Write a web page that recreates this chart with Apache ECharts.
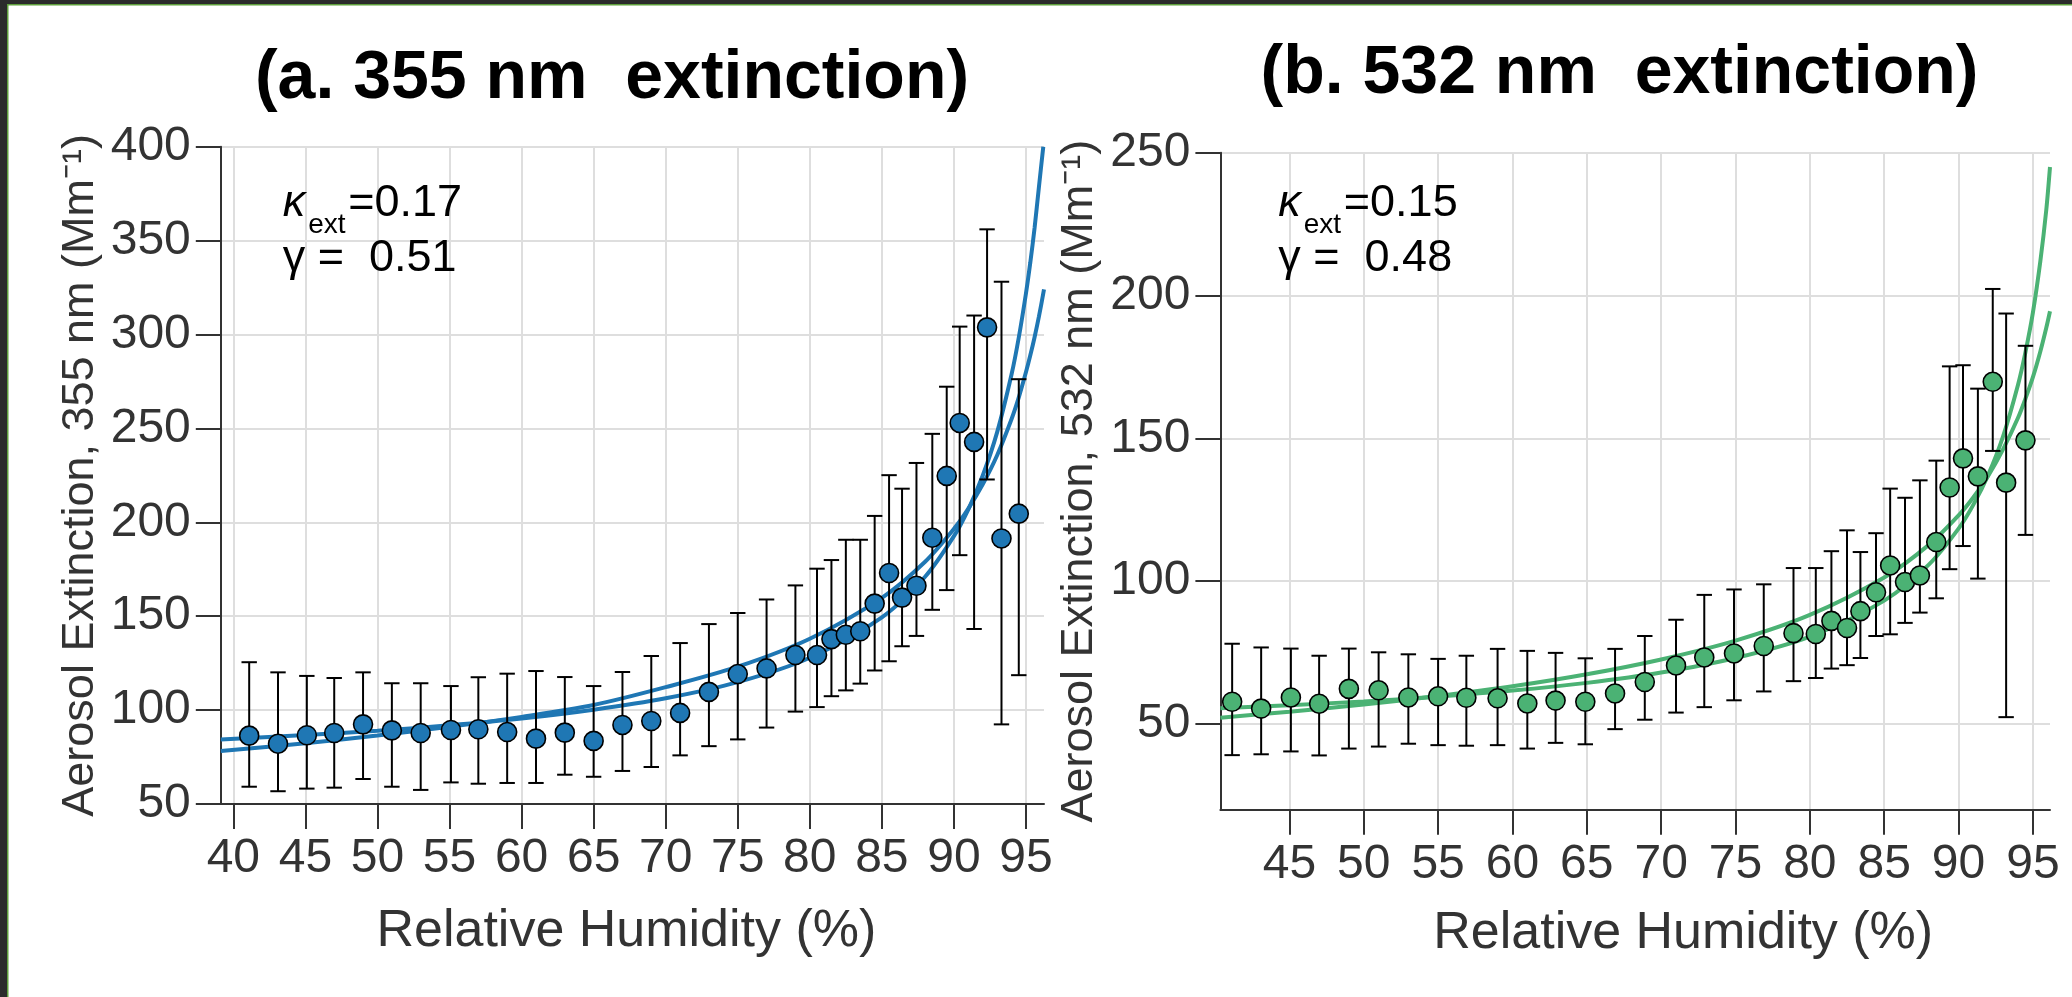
<!DOCTYPE html>
<html>
<head>
<meta charset="utf-8">
<script src="https://cdn.jsdelivr.net/npm/echarts@6/dist/echarts.min.js"></script>
<style>
html,body{margin:0;padding:0;background:#fff;}
#chart{width:2072px;height:997px;}
</style>
</head>
<body>
<div id="chart"></div>
<script>
// ---------- data ----------
const titleA = '(a. 355 nm  extinction)';
const titleB = '(b. 532 nm  extinction)';
const xTicks355 = [40, 45, 50, 55, 60, 65, 70, 75, 80, 85, 90, 95];
const xTicks532 = [45, 50, 55, 60, 65, 70, 75, 80, 85, 90, 95];
const yTicks532 = [50, 100, 150, 200, 250];

const rh355 = [41.1, 43.1, 45.1, 47.0, 49.0, 51.0, 53.0, 55.1, 57.0, 59.0, 61.0, 63.0, 65.0, 67.0, 69.0,
  71.0, 73.0, 75.0, 77.0, 79.0, 80.5, 81.5, 82.5, 83.5, 84.5, 85.5, 86.4, 87.4, 88.5, 89.5, 90.4, 91.4, 92.3, 93.3, 94.5];
const ext355 = [86.4, 82.1, 86.6, 87.8, 92.4, 89.2, 87.8, 89.4, 89.8, 88.3, 84.8, 88.0, 83.6, 92.1, 94.2,
  98.5, 109.7, 119.2, 122.2, 129.3, 129.3, 137.8, 140.1, 142.0, 156.7, 173.0, 159.9, 166.2, 191.8, 224.7, 252.9, 242.8, 303.8, 191.4, 204.6];
const lo355 = [59.2, 56.8, 58.2, 58.7, 63.3, 59.2, 57.5, 61.5, 60.8, 61.2, 61.2, 65.6, 64.5, 67.6, 69.7,
  75.9, 80.8, 84.4, 90.7, 99.2, 101.6, 107.4, 110.5, 114.1, 121.1, 126.0, 134.0, 139.5, 153.4, 163.9, 182.5, 143.2, 222.8, 92.4, 118.6];
const hi355 = [125.5, 120.1, 118.2, 117.1, 120.1, 114.3, 114.3, 112.8, 117.5, 119.4, 120.8, 117.6, 112.8, 120.3, 128.8,
  135.7, 145.8, 151.7, 158.9, 166.4, 175.3, 179.9, 190.7, 190.7, 203.4, 225.1, 217.9, 231.6, 247.1, 272.2, 304.2, 310.1, 356.0, 328.1, 276.2];

const rh532 = [41.15, 43.1, 45.1, 47.0, 49.0, 51.0, 53.0, 55.0, 56.9, 59.0, 61.0, 62.9, 64.9, 66.9, 68.9,
  71.0, 72.9, 74.9, 76.9, 78.9, 80.4, 81.45, 82.5, 83.4, 84.45, 85.4, 86.4, 87.4, 88.5, 89.4, 90.3, 91.3, 92.3, 93.2, 94.5];
const ext532 = [57.8, 55.4, 59.3, 57.1, 62.3, 61.8, 59.3, 59.7, 59.2, 59.0, 57.2, 58.2, 57.8, 60.7, 64.7,
  70.5, 73.3, 74.7, 77.3, 81.8, 81.5, 86.1, 83.6, 89.5, 96.1, 105.5, 99.7, 102.0, 113.7, 132.8, 143.0, 136.7, 169.8, 134.5, 149.3];
const lo532 = [39.1, 39.4, 40.4, 39.0, 41.4, 42.1, 43.1, 42.6, 42.4, 42.6, 41.4, 43.4, 42.9, 48.2, 51.5,
  54.0, 55.9, 58.3, 61.4, 65.0, 66.1, 69.4, 70.6, 73.1, 80.8, 81.4, 85.4, 89.0, 94.0, 104.2, 112.3, 100.9, 145.6, 52.4, 116.2];
const hi532 = [78.1, 76.8, 76.4, 73.9, 76.4, 75.1, 74.4, 72.8, 73.9, 76.3, 75.6, 74.9, 73.0, 76.3, 80.8,
  86.5, 95.2, 97.1, 98.9, 104.6, 104.6, 110.5, 117.8, 110.2, 116.8, 132.4, 129.2, 135.3, 142.2, 175.2, 175.6, 167.4, 202.3, 193.7, 182.4];

// fitted curves
const rhFit355 = [39.13, 45, 50, 55, 60, 65, 70, 75, 80, 85, 88, 90, 91, 92, 93, 94, 94.5, 95, 95.3, 95.6, 95.9, 96.2];
const kFit355  = [84.4, 86.7, 89.0, 91.9, 95.5, 100.2, 106.3, 114.9, 127.9, 149.4, 171, 192.6, 206.9, 224.9, 248, 278.8, 298.4, 322, 338.4, 357, 378.7, 400];
const rhFitG355 = [39.13, 45, 50, 55, 60, 65, 70, 75, 80, 85, 88, 90, 91, 92, 93, 94, 94.5, 95, 95.3, 95.6, 95.9, 96.25];
const gFit355  = [78.2, 82.4, 86.5, 91.1, 96.4, 102.7, 112.2, 123.1, 138, 159.8, 179, 196.5, 207.3, 220.2, 235.7, 255, 266.5, 280, 288.9, 298.7, 309.6, 324];

const rhFit532 = [40.36, 45, 50, 55, 60, 65, 70, 75, 80, 85, 88, 90, 91, 92, 93, 94, 94.5, 95, 95.5, 95.9, 96.15];
const kFit532  = [55.5, 56.6, 57.9, 59.6, 61.7, 64.4, 68.0, 73.1, 80.6, 93.2, 105.8, 118.4, 126.8, 137.3, 150.8, 168.8, 180.2, 194, 212, 230, 245];
const gFit532  = [52.2, 54.3, 56.8, 59.8, 63.2, 67.4, 72.6, 79.2, 88.2, 101.3, 112.7, 123.0, 129.4, 136.9, 146.2, 157.2, 163.9, 171.4, 180.4, 188.7, 194.5];

// ---------- styling ----------
const FONT = '"Liberation Sans", Arial, sans-serif';
const BLUE = '#1f77b4';
const GREEN = '#4bb274';
const AX = '#333333';
const GRID = '#dedede';

const pairs = (xs, ys) => xs.map((x, i) => [x, ys[i]]);
const triples = (xs, lo, hi) => xs.map((x, i) => [x, lo[i], hi[i]]);

function errRender(params, api) {
  const x = api.value(0), lo = api.value(1), hi = api.value(2);
  const a = api.coord([x, lo]), b = api.coord([x, hi]);
  const w = 7.7;
  const st = { stroke: '#000', lineWidth: 2 };
  return { type: 'group', children: [
    { type: 'line', shape: { x1: a[0], y1: a[1], x2: b[0], y2: b[1] }, style: st },
    { type: 'line', shape: { x1: a[0] - w, y1: a[1], x2: a[0] + w, y2: a[1] }, style: st },
    { type: 'line', shape: { x1: b[0] - w, y1: b[1], x2: b[0] + w, y2: b[1] }, style: st }
  ]};
}

function xAxisCfg(gi, min, max, ticks, gap, pad) {
  return {
    type: 'value', gridIndex: gi, min: min, max: max,
    axisLine: { show: true, onZero: false, lineStyle: { color: AX, width: 2 } },
    axisTick: { show: true, length: 25, customValues: ticks, lineStyle: { color: AX, width: 2 } },
    axisLabel: { customValues: ticks, fontSize: 48, color: AX, fontFamily: FONT, margin: 31 },
    splitLine: { show: true, lineStyle: { color: GRID, width: 2 } },
    name: 'Relative Humidity (%)', nameLocation: 'middle', nameGap: gap,
    nameTextStyle: { fontSize: 52, color: AX, fontFamily: FONT, padding: pad }
  };
}
function yAxisCfg(gi, min, max, ticks, label) {
  const cfg = {
    type: 'value', gridIndex: gi, min: min, max: max,
    axisLine: { show: true, onZero: false, lineStyle: { color: AX, width: 2 } },
    axisTick: { show: true, length: 25, lineStyle: { color: AX, width: 2 } },
    axisLabel: { fontSize: 48, color: AX, fontFamily: FONT, margin: 30 },
    splitLine: { show: true, lineStyle: { color: GRID, width: 2 } },
    name: label, nameLocation: 'middle', nameGap: 118,
    nameTextStyle: { fontSize: 45, color: AX, fontFamily: FONT }
  };
  if (ticks) { cfg.axisTick.customValues = ticks; cfg.axisLabel.customValues = ticks; }
  else { cfg.interval = 50; }
  return cfg;
}

function fitLine(xi, xs, ys, color) {
  return { type: 'line', xAxisIndex: xi, yAxisIndex: xi, data: pairs(xs, ys),
    showSymbol: false, symbol: 'none', smooth: 0.3, clip: true,
    lineStyle: { color: color, width: 4 }, z: 2, silent: true };
}

const chart = echarts.init(document.getElementById('chart'), null, { renderer: 'canvas' });

function txt(x, y, s, font, color) {
  return { type: 'text', x: x, y: y, silent: true, z: 100,
    style: { text: s, font: font, fill: color || '#000', align: 'left', verticalAlign: 'middle' } };
}
function annot(x0, kap, gam) {
  return [
    txt(x0, 203.7, 'κ', 'italic 45px ' + FONT),
    txt(x0 + 25.5, 225.3, 'ext', '28px ' + FONT),
    txt(x0 + 65.5, 203.7, '=' + kap, '45px ' + FONT),
    txt(x0, 258.7, 'γ =  ' + gam, '45px ' + FONT)
  ];
}

const option = {
  backgroundColor: '#ffffff',
  animation: false,
  grid: [
    { left: 220.8, top: 146.7, width: 823.2, height: 657.3, containLabel: false, outerBoundsMode: 'none' },
    { left: 1220.4, top: 152.7, width: 829.6, height: 657, containLabel: false, outerBoundsMode: 'none' }
  ],
  xAxis: [
    xAxisCfg(0, 39.13, 96.25, xTicks355, 102, [0, 12, 0, 0]),
    xAxisCfg(1, 40.36, 96.15, xTicks532, 98, [0, 0, 0, 96])
  ],
  yAxis: [
    yAxisCfg(0, 50, 400, null, 'Aerosol Extinction, 355 nm (Mm⁻¹)'),
    yAxisCfg(1, 20, 250, yTicks532, 'Aerosol Extinction, 532 nm (Mm⁻¹)')
  ],
  series: [
    fitLine(0, rhFit355, kFit355, BLUE),
    fitLine(0, rhFitG355, gFit355, BLUE),
    { type: 'custom', xAxisIndex: 0, yAxisIndex: 0, data: triples(rh355, lo355, hi355),
      encode: { x: 0, y: [1, 2] }, renderItem: errRender, z: 3, silent: true },
    { type: 'scatter', xAxisIndex: 0, yAxisIndex: 0, data: pairs(rh355, ext355), symbolSize: 19,
      itemStyle: { color: BLUE, borderColor: '#000', borderWidth: 1.6, opacity: 1 }, z: 5, silent: true },

    fitLine(1, rhFit532, kFit532, GREEN),
    fitLine(1, rhFit532, gFit532, GREEN),
    { type: 'custom', xAxisIndex: 1, yAxisIndex: 1, data: triples(rh532, lo532, hi532),
      encode: { x: 0, y: [1, 2] }, renderItem: errRender, z: 3, silent: true },
    { type: 'scatter', xAxisIndex: 1, yAxisIndex: 1, data: pairs(rh532, ext532), symbolSize: 19,
      itemStyle: { color: GREEN, borderColor: '#000', borderWidth: 1.6, opacity: 1 }, z: 5, silent: true }
  ],
  graphic: [
    { type: 'rect', z: 100, shape: { x: 0, y: 0, width: 2072, height: 4 }, style: { fill: '#2b2b2b' }, silent: true },
    { type: 'rect', z: 100, shape: { x: 0, y: 4, width: 2072, height: 1.5 }, style: { fill: '#5e9e3c' }, silent: true },
    { type: 'rect', z: 100, shape: { x: 0, y: 0, width: 7, height: 997 }, style: { fill: '#2b2b2b' }, silent: true },
    { type: 'rect', z: 100, shape: { x: 7, y: 4, width: 1.5, height: 993 }, style: { fill: '#5e9e3c' }, silent: true },
    { type: 'text', x: 612, y: 79.7, silent: true, z: 100,
      style: { text: titleA, font: 'bold 68px ' + FONT, fill: '#000', align: 'center', verticalAlign: 'middle' } },
    { type: 'text', x: 1619.5, y: 74.7, silent: true, z: 100,
      style: { text: titleB, font: 'bold 68px ' + FONT, fill: '#000', align: 'center', verticalAlign: 'middle' } }
  ].concat(annot(282.7, '0.17', '0.51')).concat(annot(1278.3, '0.15', '0.48'))
};
chart.setOption(option);
</script>
</body>
</html>
